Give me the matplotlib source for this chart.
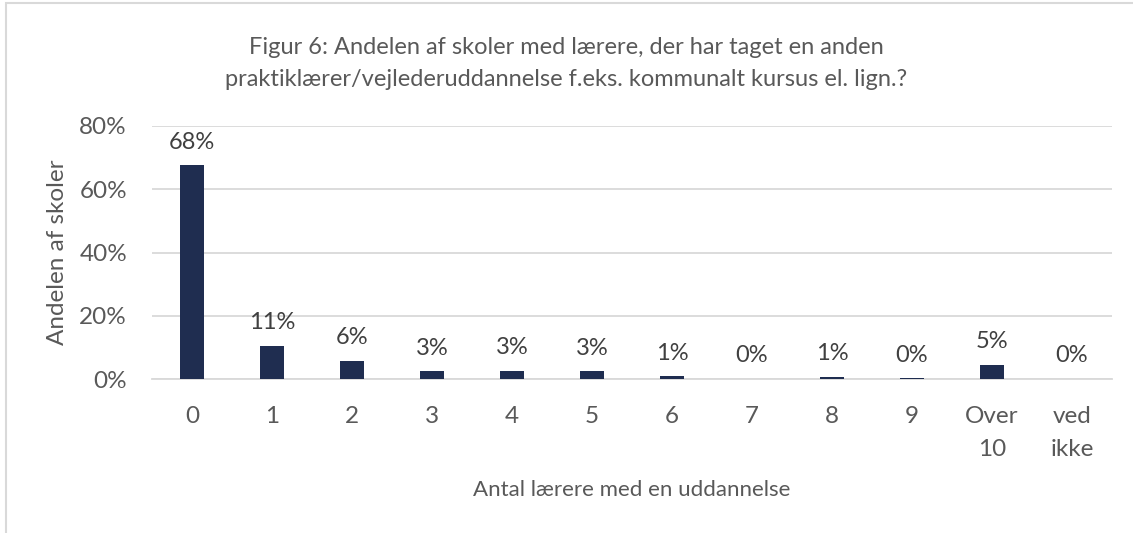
import matplotlib.pyplot as plt
from matplotlib.patches import Rectangle

categories = ["0", "1", "2", "3", "4", "5", "6", "7", "8", "9", "Over\n10", "ved\nikke"]
shares = [67.6, 10.6, 5.8, 2.6, 2.7, 2.6, 0.9, 0.2, 0.8, 0.3, 4.6, 0.2]
yticks = [0, 20, 40, 60, 80]

title = ("Figur 6: Andelen af skoler med lærere, der har taget en anden\n"
         "praktiklærer/vejlederuddannelse f.eks. kommunalt kursus el. lign.?")

plt.rcParams['font.family'] = ['Lato', 'DejaVu Sans']
grey = '#595959'

fig = plt.figure(figsize=(11.33, 5.33), dpi=100)
ax = fig.add_axes([152/1133, 1 - 379.3/533, 960/1133, 253.6/533])

x = range(len(categories))
ax.bar(x, shares, width=0.31, color='#1F2D50', zorder=3)
for i, v in enumerate(shares):
    ax.annotate(f"{round(v)}%", (i, v), xytext=(0, 9), textcoords='offset points',
                ha='center', va='bottom', fontsize=17, color='#404040')

ax.set_xlim(-0.5, len(categories) - 0.5)
ax.set_ylim(0, 80)
ax.set_yticks(yticks)
ax.set_yticklabels([f"{t}%" for t in yticks])
ax.set_xticks(list(x))
ax.set_xticklabels(categories, linespacing=1.75)
ax.tick_params(axis='both', length=0, labelsize=17.5, labelcolor=grey)
ax.tick_params(axis='y', pad=18)
ax.tick_params(axis='x', pad=19)
ax.grid(axis='y', color='#D9D9D9', linewidth=1.3, zorder=0)
for s in ['top', 'right', 'left']:
    ax.spines[s].set_visible(False)
ax.spines['bottom'].set_color('#D9D9D9')
ax.spines['bottom'].set_linewidth(1.3)

ax.set_xlabel("Antal lærere med en uddannelse", fontsize=16, color=grey, labelpad=14)
ax.set_ylabel("Andelen af skoler", fontsize=17.5, color=grey, labelpad=8)

fig.text(0.5, 1 - 63.5/533, title, ha='center', va='center', fontsize=17,
         color=grey, linespacing=1.6)

fig.patches.append(Rectangle((6/1133, -0.1), 1.2, 1.1 - 3/533, transform=fig.transFigure,
                             fill=False, edgecolor='#D9D9D9', linewidth=1.5))

fig.savefig("out.png", dpi=100)
